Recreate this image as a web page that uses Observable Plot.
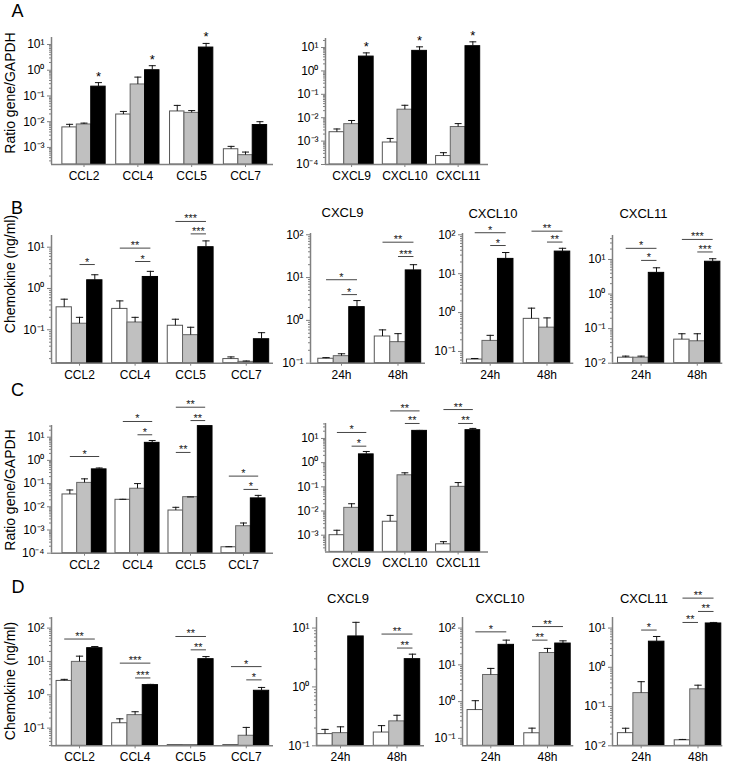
<!DOCTYPE html>
<html><head><meta charset="utf-8">
<script src="https://cdn.jsdelivr.net/npm/d3@7"></script>
<script src="https://cdn.jsdelivr.net/npm/@observablehq/plot@0.6"></script>
<style>
body{margin:0;background:#fff;}
#fig{position:relative;width:729px;height:767px;overflow:hidden;background:#fff;font-family:"Liberation Sans",Arial,sans-serif;font-weight:400;}
#fig svg{position:absolute;}
</style></head><body><div id="fig"></div>
<script>
// ---------- DATA (rows: white, grey, black bars) ----------
const A1_cats = ["CCL2","CCL4","CCL5","CCL7"];
const A1_mean = [[0.006,0.019,0.025,0.00085],[0.0078,0.28,0.022,0.0005],[0.23,1.0,7.6,0.0074]];
const A1_upper = [[0.0079,0.025,0.043,0.0011],[0.0088,0.54,0.027,0.00066],[0.33,1.5,11,0.01]];
const A1_stars = ["CCL2","CCL4","CCL5"];

const A2_cats = ["CXCL9","CXCL10","CXCL11"];
const A2_mean = [[0.0024,0.00087,0.00023],[0.0053,0.022,0.004],[4.1,7.2,11.4]];
const A2_upper = [[0.0033,0.0013,0.00032],[0.0076,0.034,0.0056],[5.9,10.7,17.5]];
const A2_stars = ["CXCL9","CXCL10","CXCL11"];

const B1_cats = ["CCL2","CCL4","CCL5","CCL7"];
const B1_mean = [[0.35,0.32,0.125,0.0195],[0.14,0.15,0.074,0.0167],[1.58,1.9,10,0.059]];
const B1_upper = [[0.55,0.5,0.18,0.022],[0.2,0.2,0.115,0.0175],[2.15,2.6,14.2,0.085]];
const B1_sig = [["CCL2","S2","S3","*",3.8],["CCL4","S1","S3","**",9.5],["CCL4","S2","S3","*",4.5],["CCL5","S1","S3","***",42],["CCL5","S2","S3","***",21]];

const times = ["24h","48h"];
const B2_mean = [[0.127,0.42],[0.146,0.31],[2.04,14.7]];
const B2_upper = [[0.135,0.6],[0.166,0.49],[2.9,20]];
const B2_sig = [["24h","S1","S3","*",8.9],["24h","S2","S3","*",4.0],["48h","S1","S3","**",67],["48h","S2","S3","***",31]];

const B3_mean = [[0.062,0.69],[0.187,0.41],[24,37]];
const B3_upper = [[0.066,1.3],[0.26,0.73],[35,45]];
const B3_sig = [["24h","S1","S3","*",113],["24h","S2","S3","*",53],["48h","S1","S3","**",124],["48h","S2","S3","**",65]];

const B4_mean = [[0.0144,0.048],[0.0144,0.043],[4.1,8.6]];
const B4_upper = [[0.016,0.071],[0.016,0.071],[5.75,10.5]];
const B4_sig = [["24h","S1","S3","*",21],["24h","S2","S3","*",9.4],["48h","S1","S3","***",38],["48h","S2","S3","***",16.5]];

const C1_cats = ["CCL2","CCL4","CCL5","CCL7"];
const C1_mean = [[0.034,0.02,0.0069,0.00018],[0.107,0.06,0.026,0.00145],[0.41,5.7,30,0.023]];
const C1_upper = [[0.053,0.021,0.0095,0.00019],[0.16,0.1,0.0265,0.002],[0.47,7.2,31,0.031]];
const C1_sig = [["CCL2","S1","S3","*",1.47],["CCL4","S1","S3","*",47.5],["CCL4","S2","S3","*",12.7],["CCL5","S1","S3","**",196],["CCL5","S2","S3","**",52],["CCL5","S1","S2","**",2.2],["CCL7","S1","S3","*",0.21],["CCL7","S2","S3","*",0.056]];

const C2_cats = ["CXCL9","CXCL10","CXCL11"];
const C2_mean = [[0.001,0.0036,0.00042],[0.0135,0.3,0.1],[2.2,20.6,22]];
const C2_upper = [[0.0016,0.0066,0.00054],[0.02,0.38,0.15],[2.9,21.5,26]];
const C2_sig = [["CXCL9","S1","S3","*",17.7],["CXCL9","S2","S3","*",4.8],["CXCL10","S1","S3","**",138],["CXCL10","S2","S3","**",41.7],["CXCL11","S1","S3","**",157],["CXCL11","S2","S3","**",41.7]];

const D1_cats = ["CCL2","CCL4","CCL5","CCL7"];
const D1_mean = [[2.6,0.14,0.031,0.031],[9.7,0.245,0.031,0.059],[25,1.95,11.7,1.32]];
const D1_upper = [[2.9,0.19,null,null],[14.4,0.31,null,0.105],[28,2.05,14,1.66]];
const D1_sig = [["CCL2","S1","S3","**",47],["CCL4","S1","S3","***",8.9],["CCL4","S2","S3","***",3.2],["CCL5","S1","S3","**",56],["CCL5","S2","S3","**",22.3],["CCL7","S1","S3","*",7.0],["CCL7","S2","S3","*",2.8]];

const D2_mean = [[0.158,0.168],[0.164,0.26],[7.2,2.96]];
const D2_upper = [[0.19,0.22],[0.21,0.33],[12.5,3.6]];
const D2_sig = [["48h","S1","S3","**",7.9],["48h","S2","S3","**",4.57]];

const D3_mean = [[0.59,0.138],[5.3,21],[35,38]];
const D3_upper = [[1.06,0.19],[8,28],[47,45]];
const D3_sig = [["24h","S1","S3","*",79],["48h","S1","S3","**",110],["48h","S1","S2","**",47]];

const D4_mean = [[0.021,0.0138],[0.22,0.275],[4.5,13.1]];
const D4_upper = [[0.028,0.0145],[0.43,0.35],[6.1,13.9]];
const D4_sig = [["24h","S2","S3","*",8.9],["48h","S1","S3","**",58],["48h","S2","S3","**",26.5],["48h","S1","S2","**",13.9]];

const panelLetters = ["A","B","C","D"];
const yTitles = ["Ratio gene/GAPDH","Chemokine (ng/ml)","Ratio gene/GAPDH","Chemokine (ng/ml)"];
const chemTitles = ["CXCL9","CXCL10","CXCL11"];

// ---------- DRAWING ----------
const SERIES = ["S1","S2","S3"];
const FILLS = ["#ffffff","#c0c0c0","#000000"];
const STROKES = ["#555555","#666666","#000000"];
const SUP = {"-":"\u207B","0":"\u2070","1":"\u00B9","2":"\u00B2","3":"\u00B3","4":"\u2074","5":"\u2075"};
const fmt = d => "10" + String(Math.round(Math.log10(d))).split("").map(c => SUP[c]).join("");
const FONT = "'Liberation Sans', Arial, sans-serif";
const fig = document.getElementById("fig");

function drawPanel(p) {
  const mL = 50, mR = 10, mT = 55, mB = 30;
  const W = p.x1 - p.x0 + mL + mR, H = p.y1 - p.y0 + mT + mB;
  const [ymin, ymax] = p.yDomain;
  const bw = p.bw, cap = p.cap || 0.065;
  const bars = [];
  p.cats.forEach((c, g) => SERIES.forEach((s, k) => {
    bars.push({cat: c, s, k, cx: g + (k - 1) * bw, v: p.mean[k][g], e: p.upper[k][g]});
  }));
  const errBars = bars.filter(b => b.e != null && b.e > b.v);
  const centerOf = (cat, s) => p.cats.indexOf(cat) + (SERIES.indexOf(s) - 1) * bw;
  const sig = (p.sig || []).map(([cat, a, b, label, y]) => ({x1: centerOf(cat, a), x2: centerOf(cat, b), y, label}));
  const stars = (p.stars || []).map(cat => { const b = bars.find(d => d.cat === cat && d.s === "S3"); return {x: b.cx, y: b.e}; });
  const lo = Math.floor(Math.log10(ymin)), hi = Math.ceil(Math.log10(ymax));
  const majors = [], minors = [];
  for (let k = lo; k <= hi; k++) for (let m = 1; m < 10; m++) {
    const v = m * Math.pow(10, k);
    if (v >= ymin * 0.999 && v <= ymax * 1.001) (m === 1 ? majors : minors).push(v);
  }
  const marks = [];
  SERIES.forEach((s, k) => marks.push(Plot.rectY(bars.filter(b => b.k === k), {
    x1: d => d.cx - bw / 2, x2: d => d.cx + bw / 2, y1: ymin, y2: "v",
    fill: FILLS[k], stroke: STROKES[k], strokeWidth: 1
  })));
  marks.push(
    Plot.ruleX(errBars, {x: "cx", y1: "v", y2: "e", stroke: "#111", strokeWidth: 1}),
    Plot.link(errBars, {x1: d => d.cx - cap, x2: d => d.cx + cap, y1: "e", y2: "e", stroke: "#111", strokeWidth: 1}),
    Plot.ruleX([p.xDomain[0]], {stroke: "#808080", strokeWidth: 1.5}),
    Plot.ruleY([ymin], {stroke: "#808080", strokeWidth: 1.5}),
    Plot.axisY(minors, {tickSize: 2, tickFormat: () => "", stroke: "#808080"}),
    Plot.axisY(majors, {tickSize: 4, tickPadding: 3, tickFormat: fmt, fontSize: 12, stroke: "#808080", fill: "#000"}),
    Plot.axisX(p.cats.map((c, i) => i), {tickSize: 3, tickPadding: 4, tickFormat: i => p.cats[i], fontSize: 12, stroke: "#808080", fill: "#000"}),
    Plot.link(sig, {x1: "x1", x2: "x2", y1: "y", y2: "y", stroke: "#444", strokeWidth: 1}),
    Plot.text(sig, {x: d => (d.x1 + d.x2) / 2, y: "y", text: "label", lineAnchor: "bottom", dy: 1, fontSize: 11, fill: "#222"}),
    Plot.text(stars, {x: "x", y: "y", text: () => "*", lineAnchor: "bottom", dy: -2, fontSize: 13, fill: "#000"})
  );
  const svg = Plot.plot({
    width: W, height: H, marginLeft: mL, marginRight: mR, marginTop: mT, marginBottom: mB,
    style: {background: "transparent", overflow: "visible", fontFamily: FONT, color: "#000"},
    x: {type: "linear", domain: p.xDomain, axis: null},
    y: {type: "log", domain: p.yDomain, axis: null},
    marks
  });
  svg.style.position = "absolute";
  svg.style.left = (p.x0 - mL) + "px";
  svg.style.top = (p.y0 - mT) + "px";
  svg.style.maxWidth = "none";
  fig.appendChild(svg);
}

const panels = [
  {cats: A1_cats, mean: A1_mean, upper: A1_upper, stars: A1_stars, x0: 51, x1: 273, y0: 37, y1: 164, xDomain: [-0.604, 3.52], yDomain: [2.17e-4, 18.7], bw: 0.268},
  {cats: A2_cats, mean: A2_mean, upper: A2_upper, stars: A2_stars, x0: 325, x1: 488, y0: 38, y1: 164, xDomain: [-0.49, 2.57], yDomain: [1e-4, 24.3], bw: 0.276},
  {cats: B1_cats, mean: B1_mean, upper: B1_upper, sig: B1_sig, x0: 51, x1: 273, y0: 235, y1: 362.7, xDomain: [-0.504, 3.49], yDomain: [0.0155, 19.2], bw: 0.275},
  {cats: times, mean: B2_mean, upper: B2_upper, sig: B2_sig, x0: 310, x1: 425, y0: 233, y1: 362.7, xDomain: [-0.549, 1.487], yDomain: [0.1, 107], bw: 0.274},
  {cats: times, mean: B3_mean, upper: B3_upper, sig: B3_sig, x0: 461.7, x1: 573, y0: 233, y1: 362.7, xDomain: [-0.488, 1.472], yDomain: [0.05, 108], bw: 0.273},
  {cats: times, mean: B4_mean, upper: B4_upper, sig: B4_sig, x0: 611.7, x1: 722, y0: 235, y1: 362.7, xDomain: [-0.509, 1.454], yDomain: [0.01, 49.4], bw: 0.274},
  {cats: C1_cats, mean: C1_mean, upper: C1_upper, sig: C1_sig, x0: 51, x1: 273, y0: 425, y1: 552.7, xDomain: [-0.623, 3.566], yDomain: [1e-4, 31.9], bw: 0.277},
  {cats: C2_cats, mean: C2_mean, upper: C2_upper, sig: C2_sig, x0: 325, x1: 488, y0: 423.3, y1: 551.7, xDomain: [-0.49, 2.57], yDomain: [2.04e-4, 41.6], bw: 0.276},
  {cats: D1_cats, mean: D1_mean, upper: D1_upper, sig: D1_sig, x0: 51, x1: 273, y0: 616.7, y1: 745, xDomain: [-0.504, 3.49], yDomain: [0.0295, 208], bw: 0.275},
  {cats: times, mean: D2_mean, upper: D2_upper, sig: D2_sig, x0: 316, x1: 424, y0: 616.7, y1: 745, xDomain: [-0.425, 1.487], yDomain: [0.1, 15.1], bw: 0.274},
  {cats: times, mean: D3_mean, upper: D3_upper, sig: D3_sig, x0: 461.7, x1: 573, y0: 616.7, y1: 745, xDomain: [-0.499, 1.464], yDomain: [0.063, 194], bw: 0.273},
  {cats: times, mean: D4_mean, upper: D4_upper, sig: D4_sig, x0: 611.7, x1: 722, y0: 616.7, y1: 745, xDomain: [-0.504, 1.436], yDomain: [0.01, 18.6], bw: 0.273}
];
panels.forEach(drawPanel);

// ---------- TEXT OVERLAY ----------
const ov = d3.select(fig).append("svg").attr("width", 729).attr("height", 767)
  .style("left", "0px").style("top", "0px").style("pointer-events", "none")
  .style("font-family", FONT).style("font-weight", "400");
const letterPos = [[17.5, 11], [17, 208], [17.5, 390], [18, 587]];
panelLetters.forEach((t, i) => ov.append("text").attr("x", letterPos[i][0]).attr("y", letterPos[i][1])
  .attr("text-anchor", "middle").attr("dominant-baseline", "central").attr("font-size", 18).text(t));
const yTitlePos = [[10, 93], [10, 274], [10, 490], [10, 681]];
yTitles.forEach((t, i) => ov.append("text")
  .attr("transform", `translate(${yTitlePos[i][0]},${yTitlePos[i][1]}) rotate(-90)`)
  .attr("text-anchor", "middle").attr("dominant-baseline", "central").attr("font-size", 14).text(t));
const titlePosB = [[342.5, 212], [493, 213], [643.5, 213]];
const titlePosD = [[348, 598], [500, 598], [644, 598]];
chemTitles.forEach((t, i) => {
  ov.append("text").attr("x", titlePosB[i][0]).attr("y", titlePosB[i][1]).attr("text-anchor", "middle")
    .attr("dominant-baseline", "central").attr("font-size", 13).attr("font-weight", 400).text(t);
  ov.append("text").attr("x", titlePosD[i][0]).attr("y", titlePosD[i][1]).attr("text-anchor", "middle")
    .attr("dominant-baseline", "central").attr("font-size", 13).attr("font-weight", 400).text(t);
});
</script></body></html>
